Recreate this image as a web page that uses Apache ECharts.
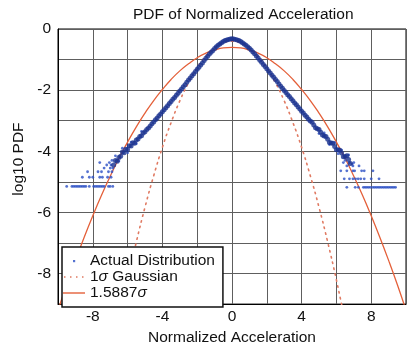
<!DOCTYPE html>
<html>
<head>
<meta charset="utf-8">
<script src="https://cdn.jsdelivr.net/npm/echarts@6/dist/echarts.min.js"></script>
<style>
  html, body { margin: 0; padding: 0; background: #fff; }
  #chart { width: 409px; height: 351px; }
</style>
</head>
<body>
<div id="chart"></div>
<script>
// Tick labels shown on the axes (grid lines are drawn at every interval)
const xTickLabels = [-8, -4, 0, 4, 8];
const yTickLabels = [0, -2, -4, -6, -8];

const seriesNames = ['Actual Distribution', '1\u03c3 Gaussian', '1.5887\u03c3'];

// Measured log10 PDF along the dense central band: [acceleration, log10 PDF]
const actualCore = [
  [-6.8, -4.45], [-6.7, -4.30], [-6.6, -4.33], [-6.5, -4.20], [-6.4, -4.16], [-6.3, -4.02],
  [-6.2, -4.05], [-6.1, -3.93], [-6.0, -3.94], [-5.9, -3.82], [-5.8, -3.83], [-5.7, -3.72],
  [-5.6, -3.74], [-5.5, -3.63], [-5.4, -3.60], [-5.3, -3.52], [-5.2, -3.49], [-5.1, -3.40],
  [-5.0, -3.36], [-4.9, -3.29], [-4.8, -3.24], [-4.7, -3.17], [-4.6, -3.10], [-4.5, -3.04],
  [-4.4, -2.97], [-4.3, -2.91], [-4.2, -2.84], [-4.1, -2.78], [-4.0, -2.71], [-3.9, -2.64],
  [-3.8, -2.58], [-3.7, -2.51], [-3.6, -2.44], [-3.5, -2.37], [-3.4, -2.30], [-3.3, -2.24],
  [-3.2, -2.17], [-3.1, -2.10], [-3.0, -2.03], [-2.9, -1.96], [-2.8, -1.89], [-2.7, -1.82],
  [-2.6, -1.74], [-2.5, -1.67], [-2.4, -1.60], [-2.3, -1.53], [-2.2, -1.46], [-2.1, -1.39],
  [-2.0, -1.32], [-1.9, -1.25], [-1.8, -1.18], [-1.7, -1.11], [-1.6, -1.03], [-1.5, -0.96],
  [-1.4, -0.89], [-1.3, -0.82], [-1.2, -0.76], [-1.1, -0.70], [-1.0, -0.64], [-0.9, -0.58],
  [-0.8, -0.53], [-0.7, -0.49], [-0.6, -0.45], [-0.5, -0.41], [-0.4, -0.38], [-0.3, -0.36],
  [-0.2, -0.34], [-0.1, -0.33], [0.0, -0.32], [0.1, -0.33], [0.2, -0.34], [0.3, -0.36],
  [0.4, -0.38], [0.5, -0.41], [0.6, -0.45], [0.7, -0.49], [0.8, -0.53], [0.9, -0.58],
  [1.0, -0.63], [1.1, -0.69], [1.2, -0.75], [1.3, -0.81], [1.4, -0.88], [1.5, -0.95],
  [1.6, -1.02], [1.7, -1.09], [1.8, -1.16], [1.9, -1.23], [2.0, -1.30], [2.1, -1.37],
  [2.2, -1.44], [2.3, -1.51], [2.4, -1.58], [2.5, -1.65], [2.6, -1.72], [2.7, -1.80],
  [2.8, -1.87], [2.9, -1.94], [3.0, -2.01], [3.1, -2.08], [3.2, -2.15], [3.3, -2.21],
  [3.4, -2.28], [3.5, -2.35], [3.6, -2.42], [3.7, -2.48], [3.8, -2.55], [3.9, -2.62],
  [4.0, -2.69], [4.1, -2.75], [4.2, -2.82], [4.3, -2.88], [4.4, -2.95], [4.5, -3.01],
  [4.6, -3.05], [4.7, -3.14], [4.8, -3.23], [4.9, -3.26], [5.0, -3.29], [5.1, -3.38],
  [5.2, -3.47], [5.3, -3.50], [5.4, -3.52], [5.5, -3.61], [5.6, -3.71], [5.7, -3.73],
  [5.8, -3.74], [5.9, -3.84], [6.0, -3.95], [6.1, -3.95], [6.2, -3.97], [6.3, -4.06],
  [6.4, -4.18], [6.5, -4.17], [6.6, -4.15], [6.7, -4.27], [6.8, -4.40]
];

// Scattered points around the band where it starts to get noisy
const actualFringe = [
  [-6.9, -4.30], [-6.7, -4.15], [-6.5, -4.32], [-6.3, -3.90], [-6.0, -4.05], [-5.8, -3.70],
  [-5.5, -3.75], [-5.2, -3.35], [5.0, -3.42], [5.3, -3.40], [5.6, -3.78], [5.9, -3.72],
  [6.1, -4.08], [6.3, -3.96], [6.5, -4.30], [6.7, -4.12], [6.9, -4.42]
];

// Low-count bins in the far tails
const actualTails = [
  [-9.5, -5.15], [-9.2, -5.15], [-9.1, -5.15], [-9.0, -5.15], [-8.9, -5.15], [-8.8, -5.15],
  [-8.7, -5.15], [-8.6, -5.15], [-8.5, -5.15], [-8.4, -5.15], [-8.2, -5.15], [-7.95, -5.15],
  [-7.85, -5.15], [-7.75, -5.15], [-7.65, -5.15], [-7.55, -5.15], [-7.45, -5.15], [-7.35, -5.15],
  [-7.1, -5.15], [-7.0, -5.15], [-6.85, -5.15],
  [-8.6, -4.85], [-8.2, -4.85], [-8.0, -4.85], [-7.6, -4.85], [-7.45, -4.85], [-7.15, -4.85], [-6.95, -4.85],
  [-8.3, -4.67], [-7.7, -4.67], [-7.5, -4.67], [-7.1, -4.67], [-6.9, -4.67],
  [-7.35, -4.55], [-7.0, -4.55], [-6.85, -4.55],
  [-7.2, -4.45], [-6.95, -4.45],
  [-7.6, -4.37], [-7.05, -4.37],
  [6.6, -5.18], [7.08, -5.18], [7.26, -5.18], [7.55, -5.18], [7.65, -5.18], [7.75, -5.18],
  [7.85, -5.18], [7.95, -5.18], [8.1, -5.18], [8.2, -5.18], [8.3, -5.18], [8.4, -5.18],
  [8.5, -5.18], [8.6, -5.18], [8.7, -5.18], [8.8, -5.18], [8.9, -5.18], [9.0, -5.18],
  [9.1, -5.18], [9.2, -5.18], [9.3, -5.18], [9.4, -5.18],
  [6.45, -4.9], [6.75, -4.9], [6.95, -4.9], [7.1, -4.9], [7.25, -4.9], [7.4, -4.9], [7.6, -4.9],
  [8.0, -4.9], [8.45, -4.9],
  [6.25, -4.64], [6.6, -4.64], [6.95, -4.64], [7.05, -4.64], [7.45, -4.64], [7.6, -4.64], [8.1, -4.64],
  [6.6, -4.48], [6.95, -4.48], [7.3, -4.48],
  [6.4, -4.37], [6.75, -4.37], [7.0, -4.37]
];

// Gaussian fit with the widened sigma
const wideX = [-10, -9.5, -9, -8.5, -8, -7.5, -7, -6.5, -6, -5.5, -5, -4.5, -4, -3.5, -3, -2.5, -2, -1.5, -1, -0.5,
  0, 0.5, 1, 1.5, 2, 2.5, 3, 3.5, 4, 4.5, 5, 5.5, 6, 6.5, 7, 7.5, 8, 8.5, 9, 9.5, 10];
const wideY = [-9.20, -8.36, -7.57, -6.82, -6.11, -5.44, -4.82, -4.23, -3.70, -3.20, -2.75, -2.34, -1.98, -1.65,
  -1.37, -1.14, -0.94, -0.79, -0.69, -0.62, -0.60, -0.62, -0.69, -0.79, -0.94, -1.14, -1.37, -1.65, -1.98, -2.34,
  -2.75, -3.20, -3.70, -4.23, -4.82, -5.44, -6.11, -6.82, -7.57, -8.36, -9.20];

// Unit-sigma Gaussian
const unitX = [-6.5, -6, -5.5, -5, -4.5, -4, -3.5, -3, -2.5, -2, -1.5, -1, -0.5, 0,
  0.5, 1, 1.5, 2, 2.5, 3, 3.5, 4, 4.5, 5, 5.5, 6, 6.5];
const unitY = [-9.57, -8.21, -6.97, -5.83, -4.80, -3.87, -3.06, -2.35, -1.76, -1.27, -0.89, -0.62, -0.45, -0.40,
  -0.45, -0.62, -0.89, -1.27, -1.76, -2.35, -3.06, -3.87, -4.80, -5.83, -6.97, -8.21, -9.57];

const font = 'Liberation Sans, Arial, Helvetica, sans-serif';
const textColor = '#111';
const lineRed = '#e4603a';
const dotRed = '#e07a62';
const bandBlue = '#1c3390';

// Legend glyphs: a small dot, a dotted stroke and a solid stroke, each in a 22x12 box
const dotIcon = 'path://M0,0M22,0M22,12M0,12M10,5L12.2,5L12.2,7.2L10,7.2Z';
const dottedIcon = 'path://M0,0M22,0M22,12M0,12' +
  'M1,5.3L2.5,5.3L2.5,6.8L1,6.8Z' +
  'M7,5.3L8.5,5.3L8.5,6.8L7,6.8Z' +
  'M13,5.3L14.5,5.3L14.5,6.8L13,6.8Z' +
  'M19,5.3L20.5,5.3L20.5,6.8L19,6.8Z';
const solidIcon = 'path://M0,0M22,0M22,12M0,12M0,5.3L22,5.3L22,6.7L0,6.7Z';

const chart = echarts.init(document.getElementById('chart'), null, { renderer: 'canvas' });

chart.setOption({
  animation: false,
  backgroundColor: '#fff',
  title: {
    text: 'PDF of Normalized Acceleration',
    left: 133,
    top: 7,
    padding: 0,
    textStyle: { fontFamily: font, fontSize: 15.5, fontWeight: 'normal', color: textColor }
  },
  grid: {
    left: 58, right: -5, top: 29, bottom: 43,
    show: true, borderColor: '#000', borderWidth: 1, backgroundColor: '#fff'
  },
  legend: {
    orient: 'vertical',
    left: 62, top: 247,
    data: [
      { name: seriesNames[0], icon: dotIcon, itemStyle: { color: '#2b4fc4' } },
      { name: seriesNames[1], icon: dottedIcon, itemStyle: { color: dotRed } },
      { name: seriesNames[2], icon: solidIcon, itemStyle: { color: lineRed } }
    ],
    itemWidth: 22, itemHeight: 12, itemGap: 0,
    padding: [6, 8, 6, 1],
    borderColor: '#111', borderWidth: 1.5, borderRadius: 0,
    backgroundColor: '#fff',
    selectedMode: false,
    textStyle: {
      fontFamily: font, fontSize: 15.5, color: textColor, lineHeight: 15,
      rich: { i: { fontFamily: font, fontSize: 15.5, fontStyle: 'italic', color: textColor, lineHeight: 15 } }
    },
    formatter: n => n.replace('\u03c3', '{i|\u03c3}')
  },
  xAxis: {
    type: 'value', min: -10, max: 10, interval: 2,
    name: 'Normalized Acceleration', nameLocation: 'middle', nameGap: 21,
    nameTextStyle: { fontFamily: font, fontSize: 15.5, color: textColor },
    axisLine: { show: true, onZero: false, lineStyle: { color: '#000', width: 1 } },
    axisTick: { show: false },
    axisLabel: {
      margin: 5, fontFamily: font, fontSize: 15.5, color: textColor,
      formatter: v => xTickLabels.includes(v) ? String(v) : ''
    },
    splitLine: { show: true, lineStyle: { color: '#5e5e5e', width: 1 } }
  },
  yAxis: {
    type: 'value', min: -9, max: 0, interval: 1,
    name: 'log10 PDF', nameLocation: 'middle', nameGap: 28, nameRotate: 90,
    nameTextStyle: { fontFamily: font, fontSize: 15.5, color: textColor, padding: [0, 0, 0, 15] },
    axisLine: { show: true, onZero: false, lineStyle: { color: '#000', width: 1 } },
    axisTick: { show: false },
    axisLabel: {
      margin: 7, fontFamily: font, fontSize: 15.5, color: textColor,
      formatter: v => yTickLabels.includes(v) ? String(v) : ''
    },
    splitLine: { show: true, lineStyle: { color: '#5e5e5e', width: 1 } }
  },
  series: [
    {
      name: seriesNames[1],
      type: 'line',
      data: unitX.map((x, i) => [x, unitY[i]]),
      smooth: true,
      symbol: 'none',
      clip: true,
      lineStyle: { color: dotRed, width: 1.6, type: [1.5, 4.5], cap: 'round' },
      itemStyle: { color: dotRed },
      z: 2
    },
    {
      name: seriesNames[2],
      type: 'line',
      data: wideX.map((x, i) => [x, wideY[i]]),
      smooth: true,
      symbol: 'none',
      clip: true,
      lineStyle: { color: lineRed, width: 1.3 },
      itemStyle: { color: lineRed },
      z: 2
    },
    {
      name: seriesNames[0],
      type: 'scatter',
      data: actualTails.concat(actualFringe),
      symbol: 'circle',
      symbolSize: 2.8,
      itemStyle: { color: '#2b4fc4' },
      z: 3
    },
    {
      name: seriesNames[0],
      type: 'scatter',
      data: actualCore,
      symbol: 'circle',
      symbolSize: 5,
      itemStyle: { color: bandBlue },
      z: 4
    }
  ]
});
</script>
</body>
</html>
